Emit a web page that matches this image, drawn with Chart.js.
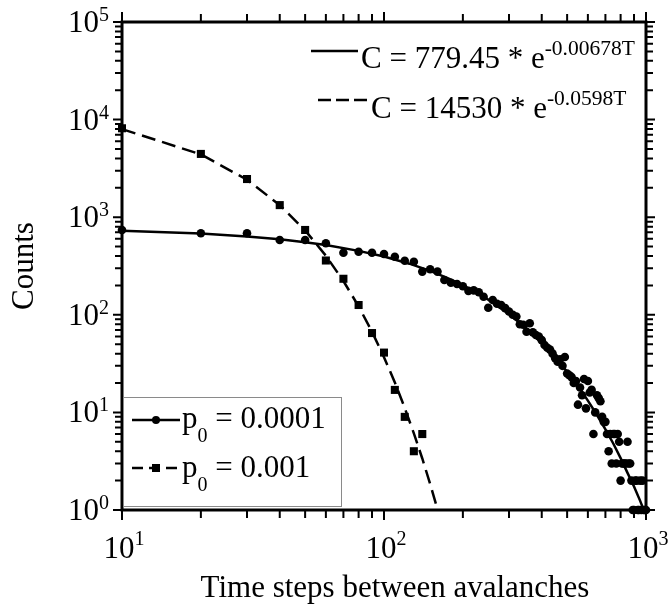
<!DOCTYPE html>
<html>
<head>
<meta charset="utf-8">
<script src="https://cdn.jsdelivr.net/npm/chart.js@4.4.1/dist/chart.umd.min.js"></script>
<style>
  html, body { margin: 0; padding: 0; background: #fff; }
  canvas { display: block; }
</style>
</head>
<body>
<canvas id="graphe" width="668" height="605"></canvas>
<script>
// === Données ===
// p0 = 0.0001 (ronds)
const tRonds = [10, 20, 30, 40, 50, 60, 70, 80, 90, 100,
  110, 120, 130, 140, 150, 160, 170, 180, 190, 200,
  210, 220, 230, 240, 250, 260, 270, 280, 290, 300,
  310, 320, 330, 340, 350, 360, 370, 380, 390, 400,
  410, 420, 430, 440, 450, 460, 470, 480, 490, 500,
  510, 520, 530, 540, 550, 560, 570, 580, 590, 600,
  610, 620, 630, 640, 650, 660, 670, 680, 690, 700,
  710, 720, 730, 740, 750, 760, 770, 780, 790, 800,
  810, 820, 830, 840, 850, 860, 870, 880, 890, 900,
  910, 920, 930, 940, 950, 960, 970, 980, 990, 1000];
const nRonds = [740, 684, 684, 584, 584, 540, 433, 443, 433, 420,
  394, 358, 350, 277, 293, 277, 227, 213, 207, 196,
  176, 178, 170, 153, 118, 142, 130, 126, 117, 108,
  100, 96, 80, 79, 67, 82, 66, 62, 60, 55,
  49, 46, 44, 40, 36, 33, 35, 30, 37, 25,
  24, 23, 20, 21, 12, 18, 15, 22, 11, 21,
  16, 17, 6, 10, 15, 14, 13, 9, 8, 8,
  6, 4, 6, 3, 6, 6, 3, 6, 5, 2,
  3, 3, 3, 3, 5, 3, 3, 2, 1, 1,
  2, 2, 1, 1, 2, 1, 2, 1, 1, 1];

// p0 = 0.001 (carrés)
const tCarres = [10, 20, 30, 40, 50, 60, 70, 80, 90, 100, 110, 120, 130, 140];
const nCarres = [8150, 4450, 2460, 1330, 740, 360, 234, 126, 65, 41, 17, 9, 4, 6];

// courbes d'ajustement (trait plein et tirets)
const tFitPlein = [10, 20, 30, 40, 50, 60, 80, 100, 125, 150, 175, 200, 250, 300, 350,
  400, 450, 500, 550, 600, 650, 700, 750, 800, 850, 900, 950, 980];
const nFitPlein = [728, 681, 635, 594, 555, 518, 452, 395, 334, 282, 238, 201, 143, 102, 72.4,
  51.6, 36.7, 26.1, 18.6, 13.2, 9.4, 6.7, 4.8, 3.4, 2.4, 1.74, 1.24, 1.0];
const tFitTirets = [10, 20, 30, 40, 50, 60, 70, 80, 90, 100, 110, 120, 130, 140, 150, 160];
const nFitTirets = [7990, 4400, 2420, 1330, 733, 403, 222, 122, 67, 36.8, 20.3, 11.1, 6.1, 3.37, 1.85, 1.02];

// graduations
const decadesX = [10, 100, 1000];
const expX = ["1", "2", "3"];
const decadesY = [1, 10, 100, 1000, 10000, 100000];
const expY = ["0", "1", "2", "3", "4", "5"];

// légendes
const equations = [["C = 779.45 * e", "-0.00678T"], ["C = 14530 * e", "-0.0598T"]];
const nomsSeries = ["0.0001", "0.001"];

const titreX = "Time steps between avalanches";
const titreY = "Counts";

const POLICE = '"Liberation Serif", "Times New Roman", serif';
const tirets = [14, 7];

const points = (xs, ys) => xs.map((x, i) => ({ x: x, y: ys[i] }));

// texte avec exposant ou indice
function texteDecale(ctx, base, petit, x, y, align, taille, taillePetit, decalage) {
  ctx.font = taille + "px " + POLICE;
  const w1 = ctx.measureText(base).width;
  ctx.font = taillePetit + "px " + POLICE;
  const w2 = ctx.measureText(petit).width;
  let x0 = x;
  if (align === "center") x0 = x - (w1 + w2) / 2;
  if (align === "right") x0 = x - w1 - w2;
  ctx.textAlign = "left";
  ctx.textBaseline = "alphabetic";
  ctx.font = taille + "px " + POLICE;
  ctx.fillText(base, x0, y);
  ctx.font = taillePetit + "px " + POLICE;
  ctx.fillText(petit, x0 + w1, y + decalage);
  return x0 + w1 + w2;
}

// === Cadre, graduations, titres et légendes ===
const habillage = {
  id: "habillage",
  afterDatasetsDraw(chart) {
    const ctx = chart.ctx;
    const a = chart.chartArea;
    const sx = chart.scales.x;
    const sy = chart.scales.y;
    ctx.save();
    ctx.fillStyle = "#000";
    ctx.strokeStyle = "#000";

    // graduations mineures et majeures sur les 4 côtés
    ctx.lineWidth = 2;
    ctx.beginPath();
    decadesX.forEach(d => {
      for (let k = 1; k <= 9; k++) {
        const v = d * k;
        if (v > sx.max) break;
        const px = sx.getPixelForValue(v);
        const l = k === 1 ? 10 : 8;
        ctx.moveTo(px, a.bottom); ctx.lineTo(px, a.bottom + l);
        ctx.moveTo(px, a.top); ctx.lineTo(px, a.top - l);
      }
    });
    decadesY.forEach(d => {
      for (let k = 1; k <= 9; k++) {
        const v = d * k;
        if (v > sy.max) break;
        const py = sy.getPixelForValue(v);
        const l = k === 1 ? 9 : 7;
        ctx.moveTo(a.left, py); ctx.lineTo(a.left - l, py);
        ctx.moveTo(a.right, py); ctx.lineTo(a.right + l, py);
      }
    });
    ctx.stroke();

    // cadre
    ctx.lineWidth = 3;
    ctx.strokeRect(a.left, a.top, a.right - a.left, a.bottom - a.top);

    // étiquettes des axes
    decadesX.forEach((d, i) => {
      const px = sx.getPixelForValue(d);
      texteDecale(ctx, "10", expX[i], px + 2, a.bottom + 48, "center", 31, 20, -13);
    });
    decadesY.forEach((d, i) => {
      const py = sy.getPixelForValue(d);
      texteDecale(ctx, "10", expY[i], 109, py + 10, "right", 31, 20, -11);
    });

    // titres
    ctx.font = "31px " + POLICE;
    ctx.textAlign = "center";
    ctx.textBaseline = "alphabetic";
    ctx.fillText(titreX, 395, 597);
    ctx.save();
    ctx.translate(33, 266);
    ctx.rotate(-Math.PI / 2);
    ctx.fillText(titreY, 0, 0);
    ctx.restore();

    // légende des ajustements (haut droite)
    ctx.lineWidth = 2.5;
    ctx.beginPath();
    ctx.moveTo(311, 51); ctx.lineTo(358, 51);
    ctx.stroke();
    texteDecale(ctx, equations[0][0], equations[0][1], 361, 68, "left", 31, 21.5, -13);
    ctx.setLineDash([13, 5]);
    ctx.beginPath();
    ctx.moveTo(318, 100); ctx.lineTo(368, 100);
    ctx.stroke();
    ctx.setLineDash([]);
    texteDecale(ctx, equations[1][0], equations[1][1], 371, 118, "left", 31, 21.5, -13);

    // légende des séries (bas gauche)
    ctx.fillStyle = "#fff";
    ctx.fillRect(123, 397, 218, 109);
    ctx.strokeStyle = "#8a8a8a";
    ctx.lineWidth = 1;
    ctx.strokeRect(123.5, 397.5, 218, 109);
    ctx.strokeStyle = "#000";
    ctx.fillStyle = "#000";
    ctx.lineWidth = 2.5;
    ctx.beginPath();
    ctx.moveTo(132, 420); ctx.lineTo(180, 420);
    ctx.stroke();
    ctx.beginPath();
    ctx.arc(156, 420, 4, 0, Math.PI * 2);
    ctx.fill();
    let xf = texteDecale(ctx, "p", "0", 182, 428, "left", 31, 20, 14);
    ctx.font = "31px " + POLICE;
    ctx.fillText(" = " + nomsSeries[0], xf, 428);

    ctx.setLineDash([11, 6]);
    ctx.beginPath();
    ctx.moveTo(132, 468); ctx.lineTo(180, 468);
    ctx.stroke();
    ctx.setLineDash([]);
    ctx.fillRect(152, 464, 8, 8);
    xf = texteDecale(ctx, "p", "0", 182, 477, "left", 31, 20, 14);
    ctx.font = "31px " + POLICE;
    ctx.fillText(" = " + nomsSeries[1], xf, 477);

    ctx.restore();
  }
};

new Chart(document.getElementById("graphe"), {
  type: "scatter",
  data: {
    datasets: [
      {
        label: "fit p0 = 0.0001",
        data: points(tFitPlein, nFitPlein),
        showLine: true,
        borderColor: "#000",
        borderWidth: 2.5,
        pointRadius: 0,
        clip: false
      },
      {
        label: "fit p0 = 0.001",
        data: points(tFitTirets, nFitTirets),
        showLine: true,
        borderColor: "#000",
        borderWidth: 2.5,
        borderDash: tirets,
        pointRadius: 0,
        clip: false
      },
      {
        label: "p0 = 0.0001",
        data: points(tRonds, nRonds),
        pointStyle: "circle",
        pointRadius: 4.3,
        backgroundColor: "#000",
        borderColor: "#000",
        borderWidth: 0,
        clip: false
      },
      {
        label: "p0 = 0.001",
        data: points(tCarres, nCarres),
        pointStyle: "rect",
        pointRadius: 5.7,
        backgroundColor: "#000",
        borderColor: "#000",
        borderWidth: 0,
        clip: false
      }
    ]
  },
  options: {
    responsive: false,
    devicePixelRatio: 1,
    animation: false,
    layout: { padding: { left: 122, right: 22, top: 22, bottom: 95 } },
    plugins: { legend: { display: false }, tooltip: { enabled: false } },
    scales: {
      x: { type: "logarithmic", min: 10, max: 1000, display: false },
      y: { type: "logarithmic", min: 1, max: 100000, display: false }
    }
  },
  plugins: [habillage]
});
</script>
</body>
</html>
